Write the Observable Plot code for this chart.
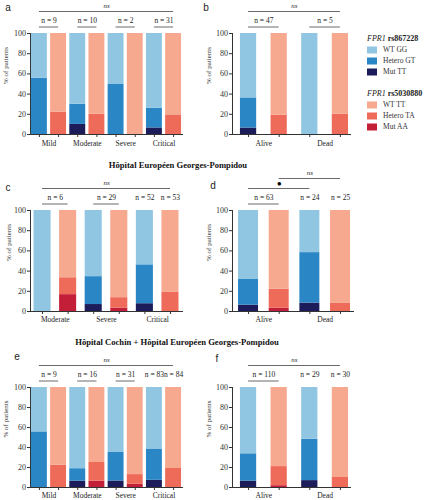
<!DOCTYPE html>
<html>
<head>
<meta charset="utf-8">
<script src="https://cdn.jsdelivr.net/npm/d3@7"></script>
<script src="https://cdn.jsdelivr.net/npm/@observablehq/plot@0.6"></script>
<style>
  html, body { margin: 0; padding: 0; background: #fff; }
  #root { position: relative; width: 424px; height: 500px; overflow: hidden; font-family: "Liberation Serif", "Times New Roman", serif; color: #222; }
  .panel { position: absolute; }
  .panel svg { overflow: visible; }
  .letter { position: absolute; font-family: "Liberation Sans", Arial, sans-serif; font-size: 10px; line-height: 10px; color: #222; transform: translate(-50%, -50%); }
  .hdr { position: absolute; font-weight: bold; font-size: 8.6px; line-height: 10px; white-space: nowrap; transform: translate(-50%, -50%); color: #111; }
  .lg-title { position: absolute; font-size: 8px; line-height: 9px; white-space: nowrap; transform: translateY(-50%); color: #222; }
  .lg-item { position: absolute; font-size: 7.5px; line-height: 8px; white-space: nowrap; transform: translateY(-50%); color: #333; }
  .lg-sw { position: absolute; width: 10px; height: 7px; transform: translateY(-50%); }
</style>
</head>
<body>
<div id="root"></div>
<script>
// ---------------- data ----------------
const snpIds = ["rs867228", "rs5030880"];
const genoRs867228 = ["Mut TT", "Hetero GT", "WT GG"];   // stacked bottom -> top
const genoRs5030880 = ["Mut AA", "Hetero TA", "WT TT"];
const legendRs867228 = ["WT GG", "Hetero GT", "Mut TT"];
const legendRs5030880 = ["WT TT", "Hetero TA", "Mut AA"];
const yTicks = [0, 20, 40, 60, 80, 100];

// a — Hôpital Cochin, severity
const groupsA = ["Mild", "Moderate", "Severe", "Critical"];
const aMutTT = [0, 10, 0, 6.5];
const aHetGT = [55.6, 20, 50, 19.4];
const aWtGG  = [44.4, 70, 50, 74.1];
const aMutAA = [0, 0, 0, 0];
const aHetTA = [22.2, 20, 0, 19.4];
const aWtTT  = [77.8, 80, 100, 80.6];
const aN1 = [9, 10, 2, 31];
const aN2 = [9, 10, 2, 31];
const aSig = [{from: ["Mild", "rs867228"], to: ["Critical", "rs5030880"], label: "ns", level: 0}];

// b — Hôpital Cochin, outcome
const groupsB = ["Alive", "Dead"];
const bMutTT = [6.4, 0];
const bHetGT = [29.8, 0];
const bWtGG  = [63.8, 100];
const bMutAA = [0, 0];
const bHetTA = [19.1, 20];
const bWtTT  = [80.9, 80];
const bN1 = [47, 5];
const bN2 = [47, 5];
const bSig = [{from: ["Alive", "rs867228"], to: ["Dead", "rs5030880"], label: "ns", level: 0}];

// c — HEGP, severity
const groupsC = ["Moderate", "Severe", "Critical"];
const cMutTT = [0, 6.9, 7.7];
const cHetGT = [0, 27.6, 38.5];
const cWtGG  = [100, 65.5, 53.8];
const cMutAA = [16.7, 3.4, 0];
const cHetTA = [16.7, 10.3, 18.9];
const cWtTT  = [66.6, 86.3, 81.1];
const cN1 = [6, 29, 52];
const cN2 = [6, 29, 53];
const cSig = [{from: ["Moderate", "rs867228"], to: ["Critical", "rs5030880"], label: "ns", level: 0}];

// d — HEGP, outcome
const groupsD = ["Alive", "Dead"];
const dMutTT = [6.3, 8.3];
const dHetGT = [25.4, 50];
const dWtGG  = [68.3, 41.7];
const dMutAA = [3.2, 0];
const dHetTA = [19.0, 8];
const dWtTT  = [77.8, 92];
const dN1 = [63, 24];
const dN2 = [63, 25];
const dSig = [
  {from: ["Alive", "rs867228"], to: ["Dead", "rs867228"], label: "•", level: 0},
  {from: ["Alive", "rs5030880"], to: ["Dead", "rs5030880"], label: "ns", level: 1}
];

// e — Cochin + HEGP, severity
const groupsE = ["Mild", "Moderate", "Severe", "Critical"];
const eMutTT = [0, 6.3, 6.5, 7.2];
const eHetGT = [55.6, 12.5, 29.0, 31.3];
const eWtGG  = [44.4, 81.2, 64.5, 61.5];
const eMutAA = [0, 6.3, 3.2, 0];
const eHetTA = [22.2, 18.7, 9.7, 19.0];
const eWtTT  = [77.8, 75, 87.1, 81.0];
const eN1 = [9, 16, 31, 83];
const eN2 = [9, 16, 31, 84];
const eSig = [{from: ["Mild", "rs867228"], to: ["Critical", "rs5030880"], label: "ns", level: 0}];

// f — Cochin + HEGP, outcome
const groupsF = ["Alive", "Dead"];
const fMutTT = [6.4, 6.9];
const fHetGT = [27.3, 41.4];
const fWtGG  = [66.3, 51.7];
const fMutAA = [1.8, 0];
const fHetTA = [19.1, 10];
const fWtTT  = [79.1, 90];
const fN1 = [110, 29];
const fN2 = [110, 30];
const fSig = [{from: ["Alive", "rs867228"], to: ["Dead", "rs5030880"], label: "ns", level: 0}];

const headerRow2 = "Hôpital Européen Georges-Pompidou";
const headerRow3 = "Hôpital Cochin + Hôpital Européen Georges-Pompidou";
const yTitle = "% of patients";

// ---------------- styles ----------------
const colorDomain = ["WT GG", "Hetero GT", "Mut TT", "WT TT", "Hetero TA", "Mut AA"];
const colorRange  = ["#91c6e2", "#2a86c5", "#1c1c5b", "#f6a98f", "#ee6a59", "#c41f38"];
const SERIF = "'Liberation Serif', 'Times New Roman', serif";

function panel(spec, L) {
  const {groups, mut1, het1, wt1, mut2, het2, wt2, n1, n2, sig} = spec;
  const keys = groups.flatMap(g => snpIds.map(s => g + "|" + s));
  const rows = [];
  groups.forEach((g, i) => {
    genoRs867228.forEach((name, j) => rows.push({key: g + "|rs867228", genotype: name, value: [mut1, het1, wt1][j][i]}));
    genoRs5030880.forEach((name, j) => rows.push({key: g + "|rs5030880", genotype: name, value: [mut2, het2, wt2][j][i]}));
  });
  const innerW = L.width - L.ml - L.mr;
  const step = innerW / (keys.length - L.pi + 2 * L.po);
  const bw = step * (1 - L.pi);

  const nGroup = [], nBar = [];
  groups.forEach((g, i) => {
    if (n1[i] === n2[i]) nGroup.push({g, n: n1[i]});
    else { nBar.push({key: g + "|rs867228", n: n1[i]}); nBar.push({key: g + "|rs5030880", n: n2[i]}); }
  });

  const lineStyle = {stroke: "#444", strokeWidth: 0.8, insetLeft: bw / 2, insetRight: bw / 2};
  const txt = {lineAnchor: "middle", fill: "#222"};
  const sigMarks = sig.flatMap(s => {
    const x1 = s.from.join("|"), x2 = s.to.join("|");
    const span = keys.indexOf(x2) - keys.indexOf(x1);
    const lineDy = s.level === 0 ? -22 : -32;
    const bullet = s.label === "•";
    return [
      Plot.ruleY([s], {x1: () => x1, x2: () => x2, y: () => 100, dy: lineDy, ...lineStyle}),
      Plot.text([s], {x: () => x1, text: d => d.label, frameAnchor: "top", dx: span * step / 2,
        dy: lineDy + (bullet ? -5 : -6), fontSize: bullet ? 13 : 7, fontWeight: bullet ? "bold" : "normal",
        fontStyle: bullet ? "normal" : "italic", ...txt, fill: bullet ? "#000" : "#222"})
    ];
  });

  return Plot.plot({
    width: L.width, height: L.height,
    marginLeft: L.ml, marginRight: L.mr, marginTop: L.mt, marginBottom: L.mb,
    style: {fontFamily: SERIF, fontSize: "8px", color: "#333", background: "transparent", overflow: "visible"},
    x: {type: "band", domain: keys, paddingInner: L.pi, paddingOuter: L.po, align: L.align ?? 0.5, round: false,
        label: null, tickSize: 3, tickFormat: () => "", line: true},
    y: {domain: [0, 100], ticks: yTicks, tickSize: 3, tickPadding: 1.5, label: null, line: true},
    color: {domain: colorDomain, range: colorRange},
    marks: [
      Plot.barY(rows, {x: "key", y: "value", fill: "genotype"}),
      Plot.text(groups, {x: g => g + "|rs867228", text: d => d, frameAnchor: "bottom", dy: L.labelDy, dx: step / 2, fontSize: 7.5, ...txt}),
      Plot.text([yTitle], {frameAnchor: "left", rotate: -90, dx: L.titleDx, fontSize: 7, lineAnchor: "middle", fill: "#333"}),
      Plot.text(nGroup, {x: d => d.g + "|rs867228", text: d => "n = " + d.n, frameAnchor: "top", dy: -13, dx: step / 2, fontSize: 7.5, ...txt}),
      Plot.ruleY(nGroup, {x1: d => d.g + "|rs867228", x2: d => d.g + "|rs5030880", y: () => 100, dy: -6.5, ...lineStyle}),
      Plot.text(nBar, {x: "key", text: d => "n = " + d.n, frameAnchor: "top", dy: -13, fontSize: 7.5, ...txt}),
      ...sigMarks
    ]
  });
}

const root = document.getElementById("root");
function place(node, left, top) {
  const div = document.createElement("div");
  div.className = "panel";
  div.style.left = left + "px";
  div.style.top = top + "px";
  div.appendChild(node);
  root.appendChild(div);
}

const row1 = {height: 155, mt: 33, mb: 21, labelDy: 9.5};
const row2 = {height: 176, mt: 60, mb: 15, labelDy: 8.5};
const row3 = {height: 173, mt: 60, mb: 13, labelDy: 8.5};

place(panel({groups: groupsA, mut1: aMutTT, het1: aHetGT, wt1: aWtGG, mut2: aMutAA, het2: aHetTA, wt2: aWtTT, n1: aN1, n2: aN2, sig: aSig},
  {...row1, width: 200, ml: 30, mr: 18, pi: 0.17, po: 0.05, titleDx: -25}), 0, 0);
place(panel({groups: groupsB, mut1: bMutTT, het1: bHetGT, wt1: bWtGG, mut2: bMutAA, het2: bHetTA, wt2: bWtTT, n1: bN1, n2: bN2, sig: bSig},
  {...row1, width: 158, ml: 32, mr: 8, pi: 0.47, po: 0.162, align: 0.8, titleDx: -24}), 200, 0);
place(panel({groups: groupsC, mut1: cMutTT, het1: cHetGT, wt1: cWtGG, mut2: cMutAA, het2: cHetTA, wt2: cWtTT, n1: cN1, n2: cN2, sig: cSig},
  {...row2, width: 200, ml: 30, mr: 18, pi: 0.333, po: 0.137, titleDx: -22}), 0, 150);
place(panel({groups: groupsD, mut1: dMutTT, het1: dHetGT, wt1: dWtGG, mut2: dMutAA, het2: dHetTA, wt2: dWtTT, n1: dN1, n2: dN2, sig: dSig},
  {...row2, width: 160, ml: 32, mr: 7, pi: 0.348, po: 0.147, align: 0.67, titleDx: -24}), 200, 150);
place(panel({groups: groupsE, mut1: eMutTT, het1: eHetGT, wt1: eWtGG, mut2: eMutAA, het2: eHetTA, wt2: eWtTT, n1: eN1, n2: eN2, sig: eSig},
  {...row3, width: 200, ml: 30, mr: 18, pi: 0.17, po: 0.05, titleDx: -25}), 0, 327);
place(panel({groups: groupsF, mut1: fMutTT, het1: fHetGT, wt1: fWtGG, mut2: fMutAA, het2: fHetTA, wt2: fWtTT, n1: fN1, n2: fN2, sig: fSig},
  {...row3, width: 158, ml: 32, mr: 8, pi: 0.47, po: 0.162, align: 0.8, titleDx: -24}), 200, 327);

// panel letters
[["a", 8, 8], ["b", 206, 8], ["c", 8, 188], ["d", 213, 186], ["e", 17, 357], ["f", 217, 359]].forEach(([t, x, y]) => {
  const el = document.createElement("div");
  el.className = "letter"; el.textContent = t;
  el.style.left = x + "px"; el.style.top = y + "px";
  root.appendChild(el);
});

// headers
[[headerRow2, 178, 165], [headerRow3, 177, 342]].forEach(([t, x, y]) => {
  const el = document.createElement("div");
  el.className = "hdr"; el.textContent = t;
  el.style.left = x + "px"; el.style.top = y + "px";
  root.appendChild(el);
});

// legend
function legendBlock(snp, labels, y0, ys) {
  const title = document.createElement("div");
  title.className = "lg-title";
  title.innerHTML = "<i>FPR1</i> <b>" + snp + "</b>";
  title.style.left = "367px"; title.style.top = y0 + "px";
  root.appendChild(title);
  labels.forEach((lab, i) => {
    const sw = document.createElement("div");
    sw.className = "lg-sw";
    sw.style.left = "367px"; sw.style.top = ys[i] + "px";
    sw.style.background = colorRange[colorDomain.indexOf(lab)];
    root.appendChild(sw);
    const tx = document.createElement("div");
    tx.className = "lg-item"; tx.textContent = lab;
    tx.style.left = "383px"; tx.style.top = ys[i] + "px";
    root.appendChild(tx);
  });
}
legendBlock(snpIds[0], legendRs867228, 38, [50, 61, 72]);
legendBlock(snpIds[1], legendRs5030880, 93, [105, 116, 127]);
</script>
</body>
</html>
